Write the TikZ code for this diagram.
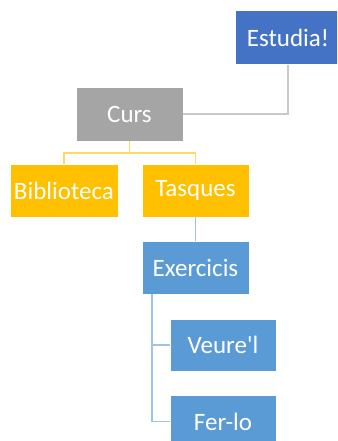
\documentclass[tikz,border=0pt]{standalone}
\usepackage{fontspec}
\setmainfont{Carlito}
\definecolor{topblue}{HTML}{4472C4}
\definecolor{cursgray}{HTML}{A5A5A5}
\definecolor{gold}{HTML}{FFC000}
\definecolor{midblue}{HTML}{5B9BD5}
\definecolor{graylink}{HTML}{C9C9C9}
\definecolor{goldlink}{HTML}{FFD966}
\definecolor{bluelink}{HTML}{9DC3E6}
\tikzset{
  box/.style={rectangle, draw=white, line width=0.6pt, text=white,
    minimum width=107pt, minimum height=54pt, inner sep=0pt,
    font=\fontsize{25}{28}\selectfont},
  link/.style={line width=1.8pt}
}
\begin{document}
\begin{tikzpicture}[x=1pt,y=-1pt]
\useasboundingbox (0,0) rectangle (337,441);
\clip (0,0) rectangle (337,441);
\fill[white] (0,0) rectangle (337,441);
\node[box, fill=topblue, minimum width=106pt] (est) at (288,37.5) {Estudia!};
\node[box, fill=cursgray] (curs) at (129.5,114) {Curs};
\node[box, fill=gold, minimum width=108pt, minimum height=53pt] (bib) at (64,190.5) {Biblioteca};
\node[box, fill=gold, minimum height=53pt] (tas) at (195.5,190.5) {Tasques};
\node[box, fill=midblue, minimum height=53pt] (exe) at (195.5,267.5) {Exercicis};
\node[box, fill=midblue, minimum width=106pt, minimum height=52pt] (veu) at (223,345) {Veure\textquotesingle l};
\node[box, fill=midblue, minimum width=106pt, minimum height=53pt] (fer) at (223,421.5) {Fer-lo};
% hierarchy links
\draw[link, graylink] (est.south) |- (curs.east);
\coordinate (cj) at (129.5,153);
\draw[link, goldlink] (curs.south) -- (cj);
\draw[link, goldlink] (cj) -| (bib.north);
\draw[link, goldlink] (cj) -| (tas.north);
\draw[link, bluelink] (tas.south) -- (exe.north);
\coordinate (ex) at (152,294);
\draw[link, bluelink] (ex) |- (veu.west);
\draw[link, bluelink] (ex) |- (fer.west);
\end{tikzpicture}
\end{document}
